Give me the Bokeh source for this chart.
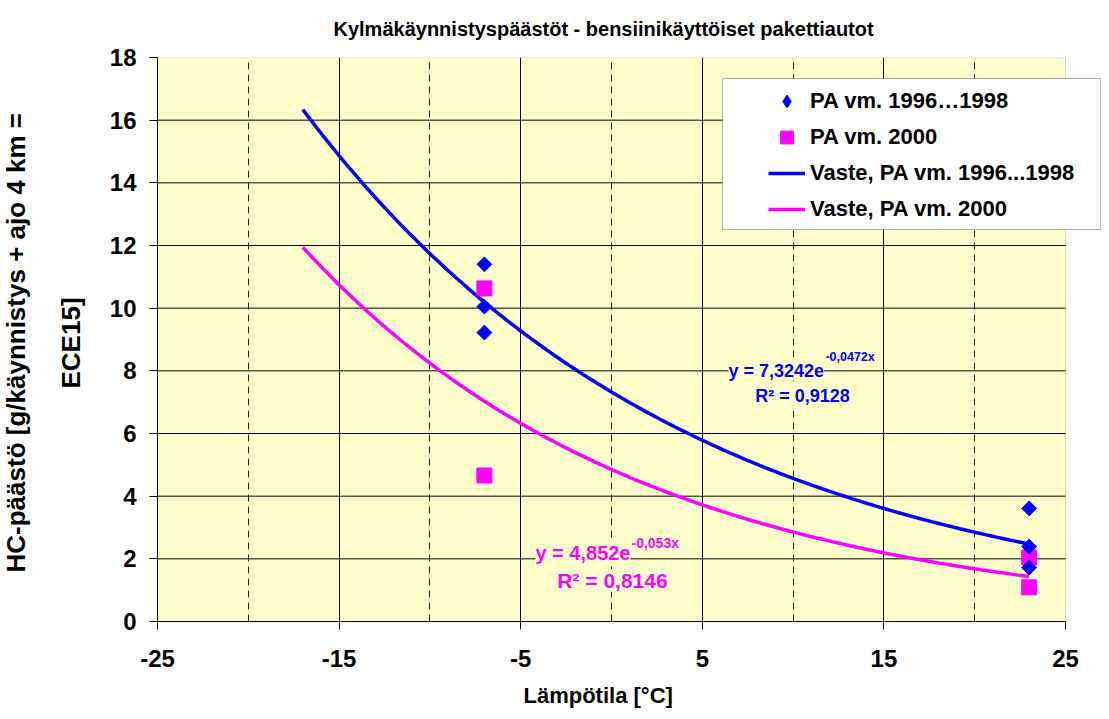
import math
import numpy as np
from bokeh.plotting import figure
from bokeh.models import FixedTicker, Label, BoxAnnotation, Legend, LegendItem, Title
from bokeh.embed import file_html
from bokeh.resources import INLINE

# ---------------- data ----------------
TITLE = "Kylmäkäynnistyspäästöt - bensiinikäyttöiset pakettiautot"
X_LABEL = "Lämpötila [°C]"
Y_LABEL_1 = "HC-päästö [g/käynnistys + ajo 4 km ="
Y_LABEL_2 = "ECE15]"

x_1996 = [-7, -7, -7, 23, 23, 23]
y_1996 = [11.4, 10.05, 9.22, 3.61, 2.39, 1.72]

x_2000 = [-7, -7, 23, 23]
y_2000 = [10.63, 4.66, 2.04, 1.09]

# fitted trendlines y = a * exp(b * x) (coefficients as printed on the chart)
fit_1996 = {"a": 7.3242, "b": -0.0472, "r2": "0,9128", "a_txt": "7,3242", "b_txt": "-0,0472x"}
fit_2000 = {"a": 4.852, "b": -0.053, "r2": "0,8146", "a_txt": "4,852", "b_txt": "-0,053x"}
trend_x_range = [-17, 23]

x_ticks = [-25, -15, -5, 5, 15, 25]
x_minor = [-20, -10, 0, 10, 20]
y_ticks = [0, 2, 4, 6, 8, 10, 12, 14, 16, 18]

legend_labels = ["PA vm. 1996…1998", "PA vm. 2000",
                 "Vaste, PA vm. 1996...1998", "Vaste, PA vm. 2000"]

BLUE = "#0000FF"
PINK = "#FF00FF"
YELLOW = "#FFFFCC"
FONT = "Liberation Sans"

X0, X1 = -25, 25
Y0, Y1 = 0, 18
X_END = X1 + 37 / 18.16   # extra white room right of the plot area for the legend

# ---------------- figure ----------------
p = figure(width=1105, height=719, x_range=(X0, X_END), y_range=(Y0, Y1),
           output_backend="svg", toolbar_location=None,
           min_border_left=157, min_border_right=3,
           min_border_top=57, min_border_bottom=98)
p.background_fill_color = "white"
p.border_fill_color = "white"
p.outline_line_color = None

# plot area (yellow) with gray border
area = BoxAnnotation(left=X0, right=X1, bottom=Y0, top=Y1, fill_color=YELLOW, fill_alpha=1.0,
                     line_color="#808080", line_width=1, level="image")
p.add_layout(area)

for ax in (p.xaxis[0], p.yaxis[0]):
    ax.axis_line_color = "black"
    ax.major_tick_line_color = "black"
    ax.major_tick_out = 8
    ax.major_tick_in = 0
    ax.minor_tick_out = 0
    ax.minor_tick_in = 0
    ax.major_label_text_font = FONT
    ax.major_label_text_font_style = "bold"
    ax.major_label_text_font_size = "24px"
    ax.major_label_text_color = "black"

p.xaxis.ticker = FixedTicker(ticks=x_ticks, minor_ticks=x_minor)
p.xaxis.major_label_overrides = {t: str(t) for t in x_ticks}
p.xaxis.bounds = (X0, X1)
p.yaxis.ticker = FixedTicker(ticks=y_ticks)
p.xaxis.major_label_standoff = 20
p.yaxis.major_label_standoff = 13

p.xgrid.ticker = FixedTicker(ticks=[t for t in x_ticks if X0 < t < X1], minor_ticks=x_minor)
p.xgrid.grid_line_color = "black"
p.xgrid.grid_line_width = 1
p.xgrid.minor_grid_line_color = "#222222"
p.xgrid.minor_grid_line_dash = "7 5"
p.xgrid.minor_grid_line_width = 1
p.ygrid.visible = False
gy = [t for t in y_ticks if Y0 < t < Y1]
p.segment(x0=[X0] * len(gy), x1=[X1] * len(gy), y0=gy, y1=gy,
          line_color="black", line_width=1, level="underlay")

# ---------------- trendlines ----------------
tx = np.linspace(trend_x_range[0], trend_x_range[1], 200)
ty96 = fit_1996["a"] * np.exp(fit_1996["b"] * tx)
ty00 = fit_2000["a"] * np.exp(fit_2000["b"] * tx)
r_l96 = p.line(tx, ty96, line_color=BLUE, line_width=3.5)
r_l00 = p.line(tx, ty00, line_color=PINK, line_width=3.5)

# ---------------- points ----------------
r_s00 = p.scatter(x_2000, y_2000, marker="square", size=15, fill_color=PINK, line_color=PINK)
# diamond glyph (used for the legend symbol), covered by the rotated squares below
r_leg96 = p.scatter(x_1996, y_1996, marker="diamond", size=14, fill_color=BLUE, line_color=BLUE)
r_s96 = p.scatter(x_1996, y_1996, marker="square", size=10.5, angle=math.pi / 4,
                  fill_color=BLUE, line_color=BLUE)

# ---------------- equations ----------------
def lab(x, y, text, size, color, align="left", bg=True, **kw):
    l = Label(x=x, y=y, text=text, text_font=FONT, text_font_style="bold",
              text_font_size=size, text_color=color, text_align=align,
              text_baseline="middle", **kw)
    if bg:
        l.background_fill_color = YELLOW
    p.add_layout(l)
    return l

lab(6.44, 8.01, "y = " + fit_1996["a_txt"] + "e", "18px", BLUE)
lab(11.78, 8.43, fit_1996["b_txt"], "12.5px", BLUE)
lab(10.52, 7.21, "R² = " + fit_1996["r2"], "18px", BLUE, align="center")

lab(-4.19, 2.20, "y = " + fit_2000["a_txt"] + "e", "20px", PINK)
lab(1.10, 2.49, fit_2000["b_txt"], "14px", PINK)
lab(0.055, 1.31, "R² = " + fit_2000["r2"], "21px", PINK, align="center")

# ---------------- titles ----------------
def title(text, size, side, offset, standoff, valign):
    t = Title(text=text, text_font=FONT, text_font_style="bold", text_font_size=size,
              text_color="black", align="left", offset=offset, standoff=standoff,
              vertical_align=valign)
    p.add_layout(t, side)
    return t

title(TITLE, "20px", "above", 176, 32, "top")
title(X_LABEL, "22px", "below", 366, 22, "bottom")
title(Y_LABEL_2, "26px", "left", 233, 42, "bottom")
title(Y_LABEL_1, "26px", "left", 49, 0, "top")

# ---------------- legend ----------------
box = BoxAnnotation(left=6.11, right=26.93, top=17.33, bottom=12.51,
                    fill_color="white", fill_alpha=1.0,
                    line_color="black", line_width=1)
p.add_layout(box)

legend = Legend(items=[LegendItem(label=legend_labels[0], renderers=[r_leg96]),
                       LegendItem(label=legend_labels[1], renderers=[r_s00]),
                       LegendItem(label=legend_labels[2], renderers=[r_l96]),
                       LegendItem(label=legend_labels[3], renderers=[r_l00])],
                location=(611, 396))
legend.margin = 0
legend.padding = 0
legend.spacing = 4
legend.glyph_width = 37
legend.glyph_height = 32
legend.label_height = 32
legend.label_standoff = 5
legend.border_line_alpha = 0
legend.background_fill_alpha = 0
legend.label_text_font = FONT
legend.label_text_font_style = "bold"
legend.label_text_font_size = "22px"
legend.label_text_color = "black"
legend.label_text_baseline = "middle"
p.add_layout(legend)

open("out.html", "w").write(file_html(p, INLINE))
